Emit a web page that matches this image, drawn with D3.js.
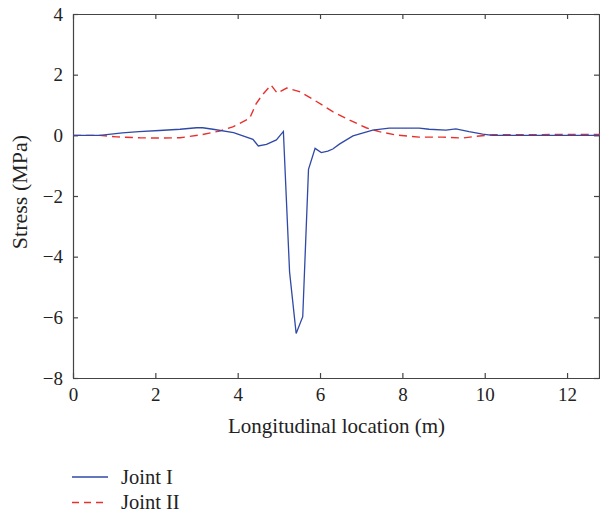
<!DOCTYPE html>
<html>
<head>
<meta charset="utf-8">
<script src="https://cdn.jsdelivr.net/npm/d3@7"></script>
<style>
  body { margin: 0; background: #fff; }
  svg text { font-family: "Liberation Serif", "DejaVu Serif", serif; fill: #222; }
</style>
</head>
<body>
<div class="vis"></div>
<script>
// values
const xTicks = [0, 2, 4, 6, 8, 10, 12]
const yTicks = [4, 2, 0, -2, -4, -6, -8]

const joint1X = [0, 0.65, 1.2, 1.6, 2.1, 2.6, 3.0, 3.15, 3.4, 3.9, 4.37, 4.5, 4.7, 4.94, 5.11,
    5.26, 5.42, 5.58, 5.72, 5.88, 6.03, 6.19, 6.31, 6.47, 6.8, 7.28, 7.68, 8.41, 8.65, 9.06, 9.3, 9.62, 9.95, 10.19, 12.8]
const joint1Y = [0, 0, 0.08, 0.12, 0.16, 0.2, 0.25, 0.25, 0.2, 0.09, -0.13, -0.35, -0.3, -0.15, 0.13,
    -4.5, -6.53, -5.98, -1.12, -0.43, -0.57, -0.52, -0.45, -0.29, -0.02, 0.17, 0.24, 0.24, 0.2, 0.17, 0.21, 0.12, 0.04, 0, 0]

const joint2X = [0, 0.65, 1.06, 1.62, 2.1, 2.6, 3.08, 3.56, 3.88, 4.29, 4.45, 4.61, 4.81, 4.96, 5.19, 5.5,
    5.85, 6.31, 6.72, 7.12, 7.44, 7.85, 8.41, 8.98, 9.46, 9.87, 10.19, 12.8]
const joint2Y = [0, 0, -0.05, -0.08, -0.09, -0.08, 0.01, 0.14, 0.28, 0.56, 1.05, 1.35, 1.66, 1.39, 1.56, 1.44,
    1.17, 0.78, 0.5, 0.25, 0.12, 0.01, -0.06, -0.06, -0.09, -0.02, 0.02, 0.03]

const seriesNames = ["Joint I", "Joint II"]

const W = 600, H = 515
const mLeft = 73, mRight = 600, mTop = 14, mBottom = 378

const svg = d3.select(".vis").append("svg").attr("width", W).attr("height", H)

const x = d3.scaleLinear().domain([0, 12.8]).range([mLeft, mRight])
const y = d3.scaleLinear().domain([-8, 4]).range([mBottom, mTop])

const axisColor = "#444"
const tickFont = "19px"

// frame with inward ticks, matlab style
const axB = svg.append("g").attr("transform", `translate(0, ${mBottom})`)
    .call(d3.axisBottom(x).tickValues(xTicks).tickSizeInner(-5).tickSizeOuter(0).tickPadding(10))
const axT = svg.append("g").attr("transform", `translate(0, ${mTop})`)
    .call(d3.axisTop(x).tickValues(xTicks).tickSizeInner(-5).tickSizeOuter(0).tickFormat(""))
const axL = svg.append("g").attr("transform", `translate(${mLeft}, 0)`)
    .call(d3.axisLeft(y).tickValues(yTicks).tickSizeInner(-5).tickSizeOuter(0).tickPadding(10))
const axR = svg.append("g").attr("transform", `translate(${mRight - 1}, 0)`)
    .call(d3.axisRight(y).tickValues(yTicks).tickSizeInner(-5).tickSizeOuter(0).tickFormat(""))

;[axB, axT, axL, axR].forEach(g => {
    g.selectAll("path, line").attr("stroke", axisColor).attr("stroke-width", 1.2)
    g.selectAll("text").style("font-size", tickFont).style("font-family", "Liberation Serif").attr("fill", "#222")
})

const line = d3.line().x(d => x(d[0])).y(d => y(d[1]))

svg.append("path")
    .datum(d3.zip(joint2X, joint2Y))
    .attr("d", line)
    .attr("fill", "none")
    .attr("stroke", "#e8302c")
    .attr("stroke-width", 1.4)
    .attr("stroke-dasharray", "8,5")

svg.append("path")
    .datum(d3.zip(joint1X, joint1Y))
    .attr("d", line)
    .attr("fill", "none")
    .attr("stroke", "#3049a8")
    .attr("stroke-width", 1.3)

// axis labels
svg.append("text")
    .attr("x", (mLeft + mRight) / 2)
    .attr("y", 433)
    .attr("text-anchor", "middle")
    .style("font-size", "21px")
    .text("Longitudinal location (m)")

svg.append("text")
    .attr("transform", `translate(27, 192) rotate(-90)`)
    .attr("text-anchor", "middle")
    .style("font-size", "22px")
    .text("Stress (MPa)")

// legend
const legend = svg.append("g")
const styles = [{ c: "#3049a8", d: null }, { c: "#e8302c", d: "7,5" }]
seriesNames.forEach((name, i) => {
    const ly = 477 + i * 25.5
    legend.append("line")
        .attr("x1", 72).attr("x2", 108)
        .attr("y1", ly).attr("y2", ly)
        .attr("stroke", styles[i].c)
        .attr("stroke-width", 1.4)
        .attr("stroke-dasharray", styles[i].d)
    legend.append("text")
        .attr("x", 121)
        .attr("y", ly + 6.8)
        .style("font-size", "20.5px")
        .text(name)
})
</script>
</body>
</html>
